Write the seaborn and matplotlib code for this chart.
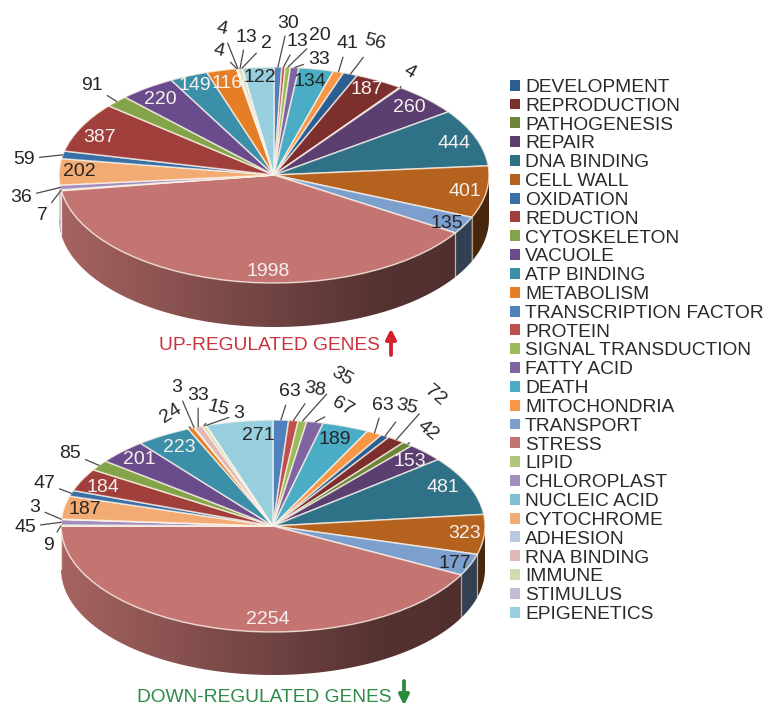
import numpy as np
import pandas as pd
import seaborn as sns
import matplotlib
matplotlib.use("Agg")
import matplotlib.pyplot as plt
from matplotlib.colors import to_rgb
from matplotlib.patches import Patch, Polygon

# Gene-ontology categories, in legend order
CATEGORIES = [
    "DEVELOPMENT", "REPRODUCTION", "PATHOGENESIS", "REPAIR", "DNA BINDING", "CELL WALL",
    "OXIDATION", "REDUCTION", "CYTOSKELETON", "VACUOLE", "ATP BINDING", "METABOLISM",
    "TRANSCRIPTION FACTOR", "PROTEIN", "SIGNAL TRANSDUCTION", "FATTY ACID", "DEATH",
    "MITOCHONDRIA", "TRANSPORT", "STRESS", "LIPID", "CHLOROPLAST", "NUCLEIC ACID",
    "CYTOCHROME", "ADHESION", "RNA BINDING", "IMMUNE", "STIMULUS", "EPIGENETICS",
]
UP_GENES = [56, 187, 4, 260, 444, 401, 59, 387, 91, 220, 149, 116, 30, 13, 20, 33, 134,
            41, 135, 1998, 7, 36, 0, 202, 4, 4, 13, 2, 122]
DOWN_GENES = [35, 72, 42, 153, 481, 323, 47, 184, 85, 201, 223, 24, 63, 38, 35, 67, 189,
              63, 177, 2254, 9, 45, 3, 187, 3, 33, 15, 3, 271]
COLORS = [
    "#2c5f91", "#7c2f2d", "#6a8636", "#5b3f70", "#2f7187", "#b5621f",
    "#3a70a8", "#a03f3b", "#84a44a", "#6a4c8c", "#3c8fa8", "#e57e26",
    "#4f81bd", "#c0504d", "#9bbb59", "#8064a2", "#4bacc6", "#f79646",
    "#7c9fcd", "#c47572", "#afc77b", "#a190bd", "#7fc0d4", "#f2ab72",
    "#b8c8e0", "#e0b8b6", "#cedcaf", "#c5bbd5", "#97cfdf",
]
# Clockwise slice sequence, beginning at twelve o'clock
RING_ORDER = [
    "TRANSCRIPTION FACTOR", "PROTEIN", "SIGNAL TRANSDUCTION", "FATTY ACID", "DEATH",
    "MITOCHONDRIA", "DEVELOPMENT", "REPRODUCTION", "PATHOGENESIS", "REPAIR", "DNA BINDING",
    "CELL WALL", "TRANSPORT", "STRESS", "LIPID", "CHLOROPLAST", "NUCLEIC ACID", "CYTOCHROME",
    "OXIDATION", "REDUCTION", "CYTOSKELETON", "VACUOLE", "ATP BINDING", "METABOLISM",
    "ADHESION", "RNA BINDING", "IMMUNE", "STIMULUS", "EPIGENETICS",
]

W, H = 768, 707
DARK_TEXT = "#262626"
LIGHT_TEXT = "#f6f1ee"

# Label placement in figure pixels from the top-left: x, y, rotation, colour, leader line
UP_LABELS = {
    "DEVELOPMENT": (375, 42, -14, DARK_TEXT, True),
    "REPRODUCTION": (367, 90, 0, LIGHT_TEXT, False),
    "PATHOGENESIS": (410, 72, -30, DARK_TEXT, True),
    "REPAIR": (409, 108, 0, LIGHT_TEXT, False),
    "DNA BINDING": (454, 143, 0, LIGHT_TEXT, False),
    "CELL WALL": (465, 192, 0, LIGHT_TEXT, False),
    "TRANSPORT": (447, 223, 0, DARK_TEXT, False),
    "STRESS": (268, 272, 0, LIGHT_TEXT, False),
    "LIPID": (42, 215, 0, DARK_TEXT, True),
    "CHLOROPLAST": (21, 197, 0, DARK_TEXT, True),
    "CYTOCHROME": (79, 172, 0, DARK_TEXT, False),
    "OXIDATION": (24, 159, 0, DARK_TEXT, True),
    "REDUCTION": (100, 137, 0, LIGHT_TEXT, False),
    "CYTOSKELETON": (92, 86, 0, DARK_TEXT, True),
    "VACUOLE": (160, 99, 0, LIGHT_TEXT, False),
    "ATP BINDING": (195, 86, 0, LIGHT_TEXT, False),
    "METABOLISM": (227, 83, 0, LIGHT_TEXT, False),
    "ADHESION": (219, 51, -12, DARK_TEXT, True),
    "RNA BINDING": (222, 29, -12, DARK_TEXT, True),
    "IMMUNE": (246, 37, 0, DARK_TEXT, True),
    "STIMULUS": (266, 43, 0, DARK_TEXT, True),
    "EPIGENETICS": (260, 78, 0, DARK_TEXT, False),
    "TRANSCRIPTION FACTOR": (288, 23, 0, DARK_TEXT, True),
    "PROTEIN": (297, 42, 0, DARK_TEXT, True),
    "SIGNAL TRANSDUCTION": (320, 36, 0, DARK_TEXT, True),
    "FATTY ACID": (319, 59, 0, DARK_TEXT, True),
    "DEATH": (310, 81, 0, DARK_TEXT, False),
    "MITOCHONDRIA": (347, 44, 0, DARK_TEXT, True),
}
DOWN_LABELS = {
    "MITOCHONDRIA": (383, 405, 0, DARK_TEXT, True),
    "DEVELOPMENT": (407, 407, -12, DARK_TEXT, True),
    "REPRODUCTION": (435, 396, -40, DARK_TEXT, True),
    "PATHOGENESIS": (428, 431, -40, DARK_TEXT, True),
    "REPAIR": (410, 461, 0, LIGHT_TEXT, False),
    "DNA BINDING": (443, 487, 0, LIGHT_TEXT, False),
    "CELL WALL": (465, 533, 0, LIGHT_TEXT, False),
    "TRANSPORT": (455, 564, 0, DARK_TEXT, False),
    "STRESS": (268, 620, 0, LIGHT_TEXT, False),
    "LIPID": (49, 545, 0, DARK_TEXT, True),
    "CHLOROPLAST": (25, 527, 0, DARK_TEXT, True),
    "NUCLEIC ACID": (35, 508, 0, DARK_TEXT, True),
    "CYTOCHROME": (85, 510, 0, DARK_TEXT, False),
    "OXIDATION": (44, 483, 0, DARK_TEXT, True),
    "REDUCTION": (103, 487, 0, LIGHT_TEXT, False),
    "CYTOSKELETON": (70, 453, 0, DARK_TEXT, True),
    "VACUOLE": (139, 460, 0, LIGHT_TEXT, False),
    "ATP BINDING": (179, 447, 0, LIGHT_TEXT, False),
    "METABOLISM": (171, 413, 32, DARK_TEXT, True),
    "ADHESION": (177, 388, 0, DARK_TEXT, True),
    "RNA BINDING": (198, 395, 0, DARK_TEXT, True),
    "IMMUNE": (218, 408, -15, DARK_TEXT, True),
    "STIMULUS": (239, 414, 0, DARK_TEXT, True),
    "EPIGENETICS": (258, 436, 0, DARK_TEXT, False),
    "TRANSCRIPTION FACTOR": (290, 392, 0, DARK_TEXT, True),
    "PROTEIN": (315, 389, -10, DARK_TEXT, True),
    "SIGNAL TRANSDUCTION": (342, 377, -30, DARK_TEXT, True),
    "FATTY ACID": (343, 407, -30, DARK_TEXT, True),
    "DEATH": (335, 439, 0, DARK_TEXT, False),
}

sns.set_theme(style="white")
plt.rcParams["font.family"] = ["Liberation Sans", "DejaVu Sans"]
palette = dict(zip(CATEGORIES, sns.color_palette(COLORS)))
RIM = (1, 0.97, 0.93)


def wall_shade(x):
    """Brightness of the cylinder wall at horizontal position x (-1 to 1)."""
    return np.interp(x, [-1, 0, 0.5, 1], [0.85, 0.57, 0.43, 0.40])


def draw_wall(ax, wedge, base, thick):
    """Paint the front-facing part of a slice's side wall with a left-to-right gradient."""
    angles = np.radians(np.linspace(wedge.theta1, wedge.theta2, 240))
    angles = angles[np.sin(angles) <= 0]
    if angles.size < 2:
        return
    xs, ys = np.cos(angles), np.sin(angles)
    outline = Polygon(np.c_[np.r_[xs, xs[::-1]], np.r_[ys, ys[::-1] - thick]],
                      transform=ax.transData, facecolor="none", edgecolor="none")
    ax.add_patch(outline)
    grid = np.linspace(-1, 1, 512)
    ramp = np.outer(wall_shade(grid), base)[np.newaxis, :, :]
    image = ax.imshow(ramp, extent=(-1, 1, -1 - thick, 0), aspect="auto",
                      interpolation="bilinear", zorder=0.5)
    image.set_clip_path(outline)
    # Pale seam where this slice's wall begins
    ax.plot([xs[0], xs[0]], [ys[0], ys[0] - thick], color=RIM + (0.55,), lw=0.9,
            zorder=0.6, clip_on=False)


def draw_pie(fig, values, labels, cx, cy, rx, ry, depth):
    series = pd.Series(values, index=CATEGORIES).reindex(RING_ORDER)
    ax = fig.add_axes([(cx - rx) / W, 1 - (cy + ry + depth) / H,
                       2 * rx / W, (2 * ry + depth) / H])
    wedges, _ = ax.pie(
        series.values, startangle=90, counterclock=False, radius=1,
        colors=[palette[n] for n in series.index],
        wedgeprops=dict(edgecolor=RIM + (0.7,), linewidth=1.1),
    )
    thick = depth / ry

    for name, wedge in zip(series.index, wedges):
        wedge.set_clip_on(False)
        if series[name] == 0:
            wedge.set_visible(False)
            continue
        draw_wall(ax, wedge, np.array(to_rgb(palette[name])), thick)

        # Value labels, with leader lines for the narrow slices
        if name not in labels:
            continue
        px, py, rot, col, leader = labels[name]
        mid = np.radians((wedge.theta1 + wedge.theta2) / 2)
        arrow = dict(arrowstyle="-", color="#4a4a4a", lw=0.9, shrinkA=1, shrinkB=0) if leader else None
        ax.annotate(str(series[name]), xy=(np.cos(mid), np.sin(mid)), xycoords="data",
                    xytext=(px, H - py), textcoords="figure pixels",
                    ha="center", va="center", rotation=rot, fontsize=14, color=col,
                    arrowprops=arrow, annotation_clip=False, zorder=5)

    ax.set_aspect("auto")
    ax.set_xlim(-1, 1)
    ax.set_ylim(-1 - thick, 1)
    ax.axis("off")
    return ax


fig = plt.figure(figsize=(W / 100, H / 100), dpi=100, facecolor="white")
draw_pie(fig, UP_GENES, UP_LABELS, cx=274, cy=175, rx=215, ry=108, depth=44)
draw_pie(fig, DOWN_GENES, DOWN_LABELS, cx=273, cy=526, rx=212, ry=106, depth=43)

# Panel captions with direction arrows
fig.text(269.5 / W, 1 - 345 / H, "UP-REGULATED GENES", ha="center", va="center",
         fontsize=13.8, color="#c8323c")
fig.text(264.5 / W, 1 - 697 / H, "DOWN-REGULATED GENES", ha="center", va="center",
         fontsize=13.8, color="#2f8a48")
fig.add_artist(plt.annotate("", xy=(391 / W, 1 - 329 / H), xytext=(391 / W, 1 - 355 / H),
                            xycoords="figure fraction", textcoords="figure fraction",
                            arrowprops=dict(arrowstyle="-|>,head_width=0.25,head_length=0.5",
                                            color="#d5202b", lw=2.4, shrinkA=0, shrinkB=0)))
fig.add_artist(plt.annotate("", xy=(404 / W, 1 - 705 / H), xytext=(404 / W, 1 - 681 / H),
                            xycoords="figure fraction", textcoords="figure fraction",
                            arrowprops=dict(arrowstyle="-|>,head_width=0.25,head_length=0.5",
                                            color="#2a8a3c", lw=2.4, shrinkA=0, shrinkB=0)))

handles = [Patch(facecolor=palette[c], edgecolor="none", label=c) for c in CATEGORIES]
fig.legend(handles=handles, loc="upper left", bbox_to_anchor=(510 / W, 1 - 79 / H),
           bbox_transform=fig.transFigure, frameon=False, fontsize=13.8,
           labelspacing=0.095, handlelength=0.5, handleheight=0.5, handletextpad=0.28,
           borderpad=0, borderaxespad=0, labelcolor="#2a2a2a")

fig.savefig("out.png", dpi=100, facecolor="white")
